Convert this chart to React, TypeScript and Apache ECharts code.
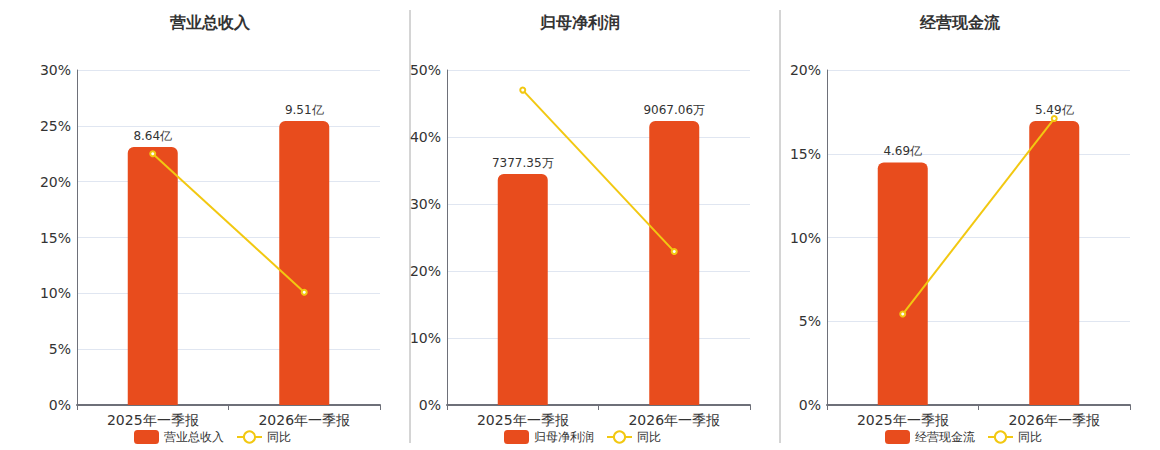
import React, { useEffect, useRef } from "react";
import * as echarts from "echarts";

const categories = ["2025年一季报", "2026年一季报"];
const titles = ["营业总收入", "归母净利润", "经营现金流"];
const units = ["亿", "万", "亿"];
const revenue = [8.64, 9.51];
const revenueYoy = [22.5, 10.1];
const netProfit = [7377.35, 9067.06];
const netProfitYoy = [47.0, 22.9];
const cashFlow = [4.69, 5.49];
const cashFlowYoy = [5.43, 17.1];
const pctMax = [30, 50, 20];
const pctInterval = [5, 10, 5];

const barValues = [revenue, netProfit, cashFlow];
const yoyValues = [revenueYoy, netProfitYoy, cashFlowYoy];

const BAR_COLOR = "#E84C1D";
const LINE_COLOR = "#F2C811";
const TEXT = "#333";
const AXIS = "#6E7079";
const FONT = "DejaVu Sans";

export default function App() {
  const ref = useRef<HTMLDivElement>(null);
  useEffect(() => {
    if (!ref.current) return;
    const chart = echarts.init(ref.current, undefined, { renderer: "svg" });
    const gridLefts = [69, 439, 819];
    const titleX = [202, 572, 952];
    const legendLefts = [121, 491, 872];

    const grid = gridLefts.map((l) => ({ left: l, top: 62, width: 303, height: 335 }));
    const xAxis = gridLefts.map((_, i) => ({
      type: "category",
      gridIndex: i,
      data: categories,
      axisLine: { show: true, lineStyle: { color: AXIS, width: 2 } },
      axisTick: { show: true, lineStyle: { color: AXIS } },
      axisLabel: { color: TEXT, fontSize: 14, margin: 8, fontFamily: FONT },
    }));
    const yAxis: any[] = [];
    gridLefts.forEach((_, i) => {
      yAxis.push({
        type: "value",
        gridIndex: i,
        min: 0,
        max: pctMax[i],
        interval: pctInterval[i],
        axisLine: { show: true, lineStyle: { color: AXIS } },
        axisTick: { show: false },
        axisLabel: { color: TEXT, fontSize: 14, margin: 6, formatter: "{value}%", fontFamily: FONT },
        splitLine: { lineStyle: { color: "#E0E6F1" } },
      });
      yAxis.push({
        type: "value",
        gridIndex: i,
        min: 0,
        max: (v: any) => v.max * 1.18,
        show: false,
        splitLine: { show: false },
      });
    });
    const series: any[] = [];
    gridLefts.forEach((_, i) => {
      series.push({
        type: "bar",
        name: titles[i],
        xAxisIndex: i,
        yAxisIndex: i * 2 + 1,
        data: barValues[i],
        barWidth: 50,
        itemStyle: { color: BAR_COLOR, borderRadius: [6, 6, 0, 0] },
        label: {
          show: true,
          position: "top",
          color: TEXT,
          fontSize: 12,
          fontFamily: FONT,
          formatter: (p: any) => `${p.value}${units[i]}`,
        },
      });
      series.push({
        type: "line",
        name: "同比",
        xAxisIndex: i,
        yAxisIndex: i * 2,
        data: yoyValues[i],
        symbol: "emptyCircle",
        symbolSize: 5,
        lineStyle: { color: LINE_COLOR, width: 2 },
        itemStyle: { color: LINE_COLOR },
        z: 5,
      });
    });
    const legend = legendLefts.map((l, i) => ({
      left: l,
      top: 417,
      data: [titles[i], "同比"],
      itemWidth: 25,
      itemHeight: 14,
      itemGap: 12,
      textStyle: { color: TEXT, fontSize: 12, fontFamily: FONT },
    }));
    const graphic: any[] = [
      ...titleX.map((x, i) => ({
        type: "text",
        x,
        y: 14,
        style: {
          text: titles[i],
          fill: TEXT,
          font: `bold 16px "${FONT}"`,
          align: "center",
          verticalAlign: "middle",
        },
      })),
      ...[402, 772].map((x) => ({
        type: "line",
        shape: { x1: x, y1: 2, x2: x, y2: 435 },
        style: { stroke: "#AAAAAA", lineWidth: 1 },
      })),
    ];
    chart.setOption({
      animation: false,
      textStyle: { fontFamily: FONT },
      grid,
      xAxis,
      yAxis,
      series,
      legend,
      graphic,
    } as any);
    return () => chart.dispose();
  }, []);
  return <div ref={ref} style={{ width: 1144, height: 442 }} />;
}
